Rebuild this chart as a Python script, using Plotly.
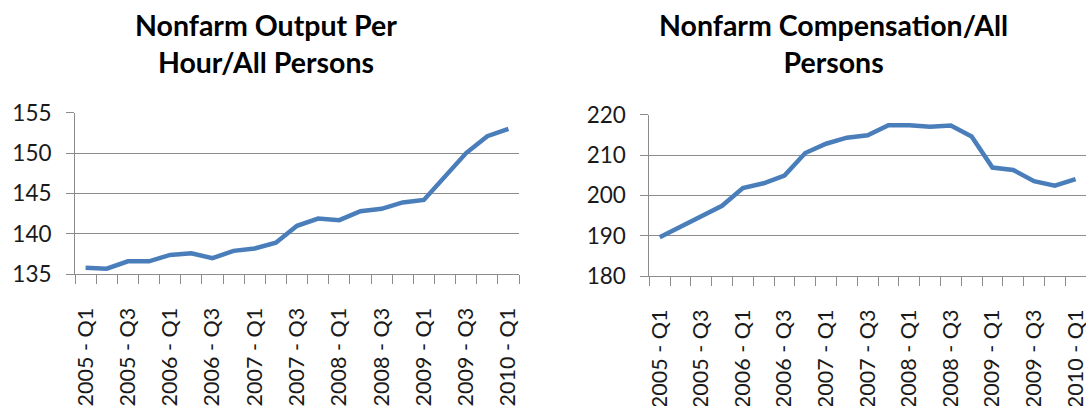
import plotly.graph_objects as go

quarters = [
    "2005 - Q1", "2005 - Q2", "2005 - Q3", "2005 - Q4",
    "2006 - Q1", "2006 - Q2", "2006 - Q3", "2006 - Q4",
    "2007 - Q1", "2007 - Q2", "2007 - Q3", "2007 - Q4",
    "2008 - Q1", "2008 - Q2", "2008 - Q3", "2008 - Q4",
    "2009 - Q1", "2009 - Q2", "2009 - Q3", "2009 - Q4",
    "2010 - Q1",
]
output_per_hour = [135.8, 135.7, 136.6, 136.6, 137.4, 137.6, 137.0, 137.9, 138.2, 138.9,
                   141.0, 141.9, 141.7, 142.8, 143.1, 143.9, 144.2, 147.0, 150.0, 152.1, 153.0]
compensation = [189.6, 192.2, 194.9, 197.4, 201.8, 203.0, 204.9, 210.5, 212.8, 214.3,
                214.9, 217.4, 217.4, 217.0, 217.3, 214.6, 206.9, 206.3, 203.5, 202.4, 204.0]
left_yticks = [135, 140, 145, 150, 155]
right_yticks = [180, 190, 200, 210, 220]
title_left = "Nonfarm Output Per<br>Hour/All Persons"
title_right = "Nonfarm Compensation/All<br>Persons"

W, H = 1086, 406
LINE = "#4A7EBB"
GRID = "#8C8C8C"
FONT = "Lato"
TXT = "#1a1a1a"

ticktext = [q if i % 2 == 0 else "" for i, q in enumerate(quarters)]

fig = go.Figure()
fig.add_trace(go.Scatter(x=quarters, y=output_per_hour, mode="lines",
                         line=dict(color=LINE, width=4.5), xaxis="x", yaxis="y",
                         showlegend=False, hoverinfo="skip"))
fig.add_trace(go.Scatter(x=quarters, y=compensation, mode="lines",
                         line=dict(color=LINE, width=4.5), xaxis="x2", yaxis="y2",
                         showlegend=False, hoverinfo="skip"))

def xax(domain, anchor):
    return dict(domain=domain, anchor=anchor, type="category", automargin=False,
                categoryorder="array", categoryarray=quarters,
                range=[-0.5, len(quarters) - 0.5],
                tickmode="array", tickvals=quarters, ticktext=ticktext,
                tickson="boundaries", ticks="outside", ticklen=9, tickcolor=GRID, tickwidth=1,
                showline=True, linecolor=GRID, linewidth=1, showgrid=False,
                tickangle=-90, tickfont=dict(family=FONT, size=21.5, color=TXT),
                ticklabelstandoff=24, zeroline=False, fixedrange=True)

def yax(domain, anchor, ticks, rng):
    return dict(domain=domain, anchor=anchor, range=rng, automargin=False,
                tickmode="array", tickvals=ticks,
                ticks="outside", ticklen=8, tickcolor=GRID, tickwidth=1,
                showline=True, linecolor=GRID, linewidth=1,
                showgrid=True, gridcolor=GRID, gridwidth=1, zeroline=False,
                tickfont=dict(family=FONT, size=22.5, color=TXT),
                ticklabelstandoff=10, fixedrange=True)

fig.update_layout(
    template="none",
    width=W, height=H,
    margin=dict(l=0, r=0, t=0, b=0, autoexpand=False),
    paper_bgcolor="white", plot_bgcolor="white",
    xaxis=xax([75 / W, 519 / W], "y"),
    yaxis=yax([(H - 274.3) / H, (H - 112.7) / H], "x", left_yticks, [135, 155]),
    xaxis2=xax([649.3 / W, 1.0], "y2"),
    yaxis2=yax([(H - 276) / H, (H - 114.7) / H], "x2", right_yticks, [180, 220]),
    annotations=[
        dict(text="<b>" + title_left + "</b>", x=266 / W, y=1 - 43 / H, xref="paper", yref="paper",
             showarrow=False, font=dict(family=FONT, size=28.5, color="black"),
             xanchor="center", yanchor="middle", align="center"),
        dict(text="<b>" + title_right + "</b>", x=833 / W, y=1 - 43 / H, xref="paper", yref="paper",
             showarrow=False, font=dict(family=FONT, size=28.5, color="black"),
             xanchor="center", yanchor="middle", align="center"),
    ],
)

fig.write_html("out.html")
